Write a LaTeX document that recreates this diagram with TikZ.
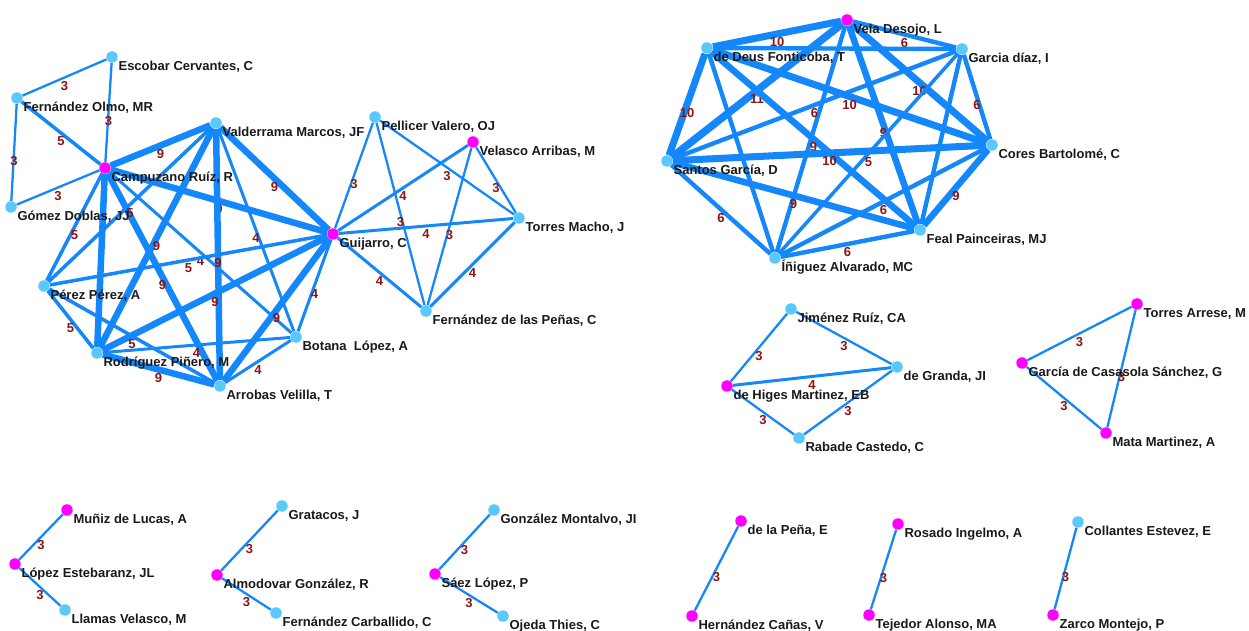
\documentclass[tikz,border=0pt]{standalone}
\usepackage{fontspec}
\setmainfont{Liberation Sans}
\usetikzlibrary{backgrounds}
\definecolor{linkblue}{RGB}{20,135,250}
\definecolor{aucyan}{RGB}{90,200,250}
\definecolor{aumag}{RGB}{255,0,255}
\definecolor{numred}{RGB}{140,20,20}
\definecolor{nametxt}{RGB}{25,25,25}

\begin{document}
\begin{tikzpicture}[x=0.02cm,y=-0.02cm,
  au/.style={circle,inner sep=0pt,minimum size=0.23cm,fill=aucyan},
  aum/.style={au,fill=aumag},
  every label/.style={font=\bfseries\fontsize{7.4}{9}\selectfont,text=nametxt,inner sep=0pt,text height=5.3pt,text depth=1.5pt,xshift=1.1pt},
  lk/.style={draw=linkblue},
  w3/.style={lk,line width=1.3pt},
  w4/.style={lk,line width=1.7pt},
  w5/.style={lk,line width=2pt},
  w6/.style={lk,line width=2.5pt},
  w9/.style={lk,line width=3.7pt},
  w10/.style={lk,line width=4pt},
  w11/.style={lk,line width=4.3pt},
  num/.style={midway,yshift=-4.8pt,font=\bfseries\fontsize{7.4}{9}\selectfont,text=numred,inner sep=0pt}]

\useasboundingbox (0,0) rectangle (1249,631);

% Campuzano / Guijarro component
\node[au,label={below right:{Escobar Cervantes, C}}] (esc) at (112,57) {};
\node[au,label={below right:{Fernández Olmo, MR}}] (folm) at (17,98) {};
\node[aum,label={below right:{Campuzano Ruíz, R}}] (camp) at (105,168) {};
\node[au,label={below right:{Gómez Doblas, JJ}}] (gom) at (11,207) {};
\node[au,label={below right:{Valderrama Marcos, JF}}] (vald) at (216,123) {};
\node[aum,label={below right:{Guijarro, C}}] (guij) at (333,234) {};
\node[au,label={below right:{Pérez Pérez, A}}] (per) at (44,286) {};
\node[au,label={below right:{Rodríguez Piñero, M}}] (rod) at (97,353) {};
\node[au,label={below right:{Arrobas Velilla, T}}] (arr) at (220,386) {};
\node[au,label={below right:{Botana~ López, A}}] (bot) at (296,337) {};
\node[au,label={below right:{Pellicer Valero, OJ}}] (pell) at (375,117) {};
\node[aum,label={below right:{Velasco Arribas, M}}] (velas) at (473,142) {};
\node[au,label={below right:{Torres Macho, J}}] (tmach) at (519,218) {};
\node[au,label={below right:{Fernández de las Peñas, C}}] (fpen) at (426,311) {};

% Vela Desojo component
\node[aum,label={below right:{Vela Desojo, L}}] (vela) at (847,20) {};
\node[au,label={below right:{de Deus Fonticoba, T}}] (deus) at (707,48) {};
\node[au,label={below right:{Garcia díaz, I}}] (gdiaz) at (962,49) {};
\node[au,label={below right:{Cores Bartolomé, C}}] (cores) at (992,145) {};
\node[au,label={below right:{Santos García, D}}] (santos) at (667,161) {};
\node[au,label={below right:{Feal Painceiras, MJ}}] (feal) at (920,230) {};
\node[au,label={below right:{Íñiguez Alvarado, MC}}] (inig) at (775,258) {};

% Small groups
\node[au,label={below right:{Jiménez Ruíz, CA}}] (jimen) at (791,309) {};
\node[au,label={below right:{de Granda, JI}}] (granda) at (897,367) {};
\node[aum,label={below right:{de Higes Martinez, EB}}] (higes) at (727,386) {};
\node[au,label={below right:{Rabade Castedo, C}}] (rabade) at (799,438) {};
\node[aum,label={below right:{Torres Arrese, M}}] (tarr) at (1137,304) {};
\node[aum,label={below right:{García de Casasola Sánchez, G}}] (casas) at (1022,363) {};
\node[aum,label={below right:{Mata Martinez, A}}] (mata) at (1106,433) {};

% Pairs and triples
\node[aum,label={below right:{Muñiz de Lucas, A}}] (muniz) at (67,510) {};
\node[aum,label={below right:{López Estebaranz, JL}}] (lopez) at (15,564) {};
\node[au,label={below right:{Llamas Velasco, M}}] (llamas) at (65,610) {};
\node[au,label={below right:{Gratacos, J}}] (grat) at (282,506) {};
\node[aum,label={below right:{Almodovar González, R}}] (almod) at (217,575) {};
\node[au,label={below right:{Fernández Carballido, C}}] (fcarb) at (276,613) {};
\node[au,label={below right:{González Montalvo, JI}}] (gmont) at (494,510) {};
\node[aum,label={below right:{Sáez López, P}}] (saez) at (435,574) {};
\node[au,label={below right:{Ojeda Thies, C}}] (ojeda) at (503,616) {};
\node[aum,label={below right:{de la Peña, E}}] (pena) at (741,521) {};
\node[aum,label={below right:{Hernández Cañas, V}}] (hcan) at (692,616) {};
\node[aum,label={below right:{Rosado Ingelmo, A}}] (rosado) at (898,524) {};
\node[aum,label={below right:{Tejedor Alonso, MA}}] (tejedor) at (869,615) {};
\node[au,label={below right:{Collantes Estevez, E}}] (collan) at (1078,522) {};
\node[aum,label={below right:{Zarco Montejo, P}}] (zarco) at (1053,615) {};

\begin{scope}[on background layer]
% Links, Campuzano side
\draw[w3] (esc) -- node[num]{3} (folm);
\draw[w3] (esc) -- node[num]{3} (camp);
\draw[w5] (folm) -- node[num]{5} (camp);
\draw[w3] (folm) -- node[num]{3} (gom);
\draw[w3] (gom) -- node[num]{3} (camp);
\draw[w9] (camp) -- node[num]{9} (vald);
\draw[w9] (camp) -- node[num]{9} (guij);
\draw[w5] (camp) -- node[num]{5} (per);
\draw[w9] (camp) -- (rod);
\draw[w9] (camp) -- node[num]{9} (arr);
\draw[w4] (camp) -- node[num]{4} (bot);
\draw[w5] (vald) -- node[num]{5} (per);
\draw[w9] (vald) -- node[num]{9} (rod);
\draw[w9] (vald) -- node[num]{9} (arr);
\draw[w4] (vald) -- node[num]{4} (bot);
\draw[w9] (vald) -- node[num]{9} (guij);
\draw[w5] (guij) -- node[num]{5} (per);
\draw[w9] (guij) -- node[num]{9} (rod);
\draw[w9] (guij) -- node[num]{9} (arr);
\draw[w4] (guij) -- node[num]{4} (bot);
\draw[w5] (per) -- node[num]{5} (rod);
\draw[w5] (per) -- node[num]{5} (arr);
\draw[w9] (rod) -- node[num]{9} (arr);
\draw[w4] (rod) -- node[num]{4} (bot);
\draw[w4] (arr) -- node[num]{4} (bot);

% Links, Guijarro side
\draw[w3] (guij) -- node[num]{3} (pell);
\draw[w4] (guij) -- node[num]{4} (velas);
\draw[w4] (guij) -- node[num]{4} (tmach);
\draw[w4] (guij) -- node[num]{4} (fpen);
\draw[w3] (pell) -- node[num]{3} (fpen);
\draw[w3] (pell) -- node[num]{3} (tmach);
\draw[w3] (velas) -- node[num]{3} (tmach);
\draw[w3] (velas) -- node[num]{3} (fpen);
\draw[w4] (tmach) -- node[num]{4} (fpen);

% Links, Vela Desojo
\draw[w10] (vela) -- node[num]{10} (deus);
\draw[w6] (vela) -- node[num]{6} (gdiaz);
\draw[w11] (vela) -- node[num]{11} (santos);
\draw[w10] (vela) -- node[num]{10} (cores);
\draw[w9] (vela) -- node[num]{9} (feal);
\draw[w6] (vela) -- (inig);
\draw[w6] (deus) -- (gdiaz);
\draw[w10] (deus) -- node[num]{10} (santos);
\draw[w10] (deus) -- node[num]{10} (cores);
\draw[w9] (deus) -- node[num]{9} (feal);
\draw[w6] (deus) -- (inig);
\draw[w6] (gdiaz) -- node[num]{6} (santos);
\draw[w6] (gdiaz) -- node[num]{6} (cores);
\draw[w5] (gdiaz) -- node[num]{5} (inig);
\draw[w6] (gdiaz) -- (feal);
\draw[w10] (santos) -- node[num]{10} (cores);
\draw[w9] (santos) -- node[num]{9} (feal);
\draw[w6] (santos) -- node[num]{6} (inig);
\draw[w9] (cores) -- node[num]{9} (feal);
\draw[w6] (cores) -- node[num]{6} (inig);
\draw[w6] (feal) -- node[num]{6} (inig);

% Links, small groups
\draw[w3] (jimen) -- node[num]{3} (higes);
\draw[w3] (jimen) -- node[num]{3} (granda);
\draw[w4] (higes) -- node[num]{4} (granda);
\draw[w3] (higes) -- node[num]{3} (rabade);
\draw[w3] (rabade) -- node[num]{3} (granda);
\draw[w3] (tarr) -- node[num]{3} (casas);
\draw[w3] (casas) -- node[num]{3} (mata);
\draw[w3] (tarr) -- node[num]{3} (mata);

% Links, pairs
\draw[w3] (muniz) -- node[num]{3} (lopez);
\draw[w3] (lopez) -- node[num]{3} (llamas);
\draw[w3] (grat) -- node[num]{3} (almod);
\draw[w3] (almod) -- node[num]{3} (fcarb);
\draw[w3] (gmont) -- node[num]{3} (saez);
\draw[w3] (saez) -- node[num]{3} (ojeda);
\draw[w3] (pena) -- node[num]{3} (hcan);
\draw[w3] (rosado) -- node[num]{3} (tejedor);
\draw[w3] (collan) -- node[num]{3} (zarco);
\end{scope}

\end{tikzpicture}
\end{document}
